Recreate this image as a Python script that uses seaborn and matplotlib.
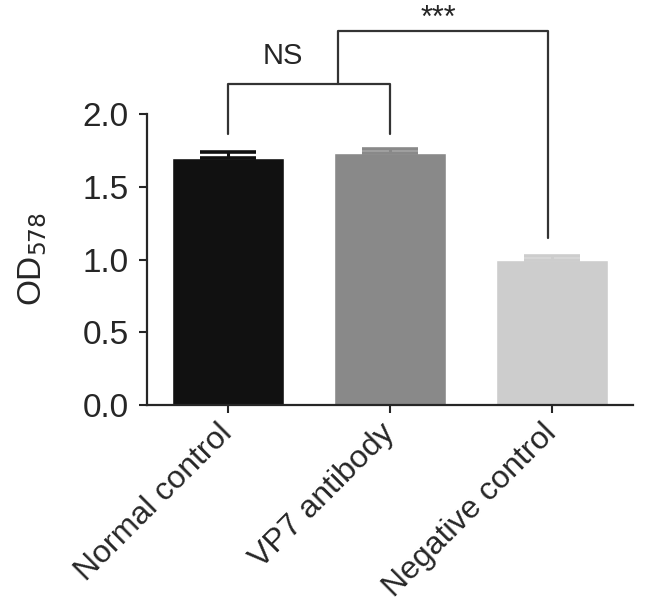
import numpy as np
import pandas as pd
import matplotlib
matplotlib.use("Agg")
import matplotlib.pyplot as plt
import seaborn as sns

# data
groups = ["Normal control", "VP7 antibody", "Negative control"]
od_mean = [1.70, 1.73, 1.00]
od_err = [0.04, 0.03, 0.025]
bar_colors = ["#111111", "#898989", "#cdcdcd"]

sns.set_style("ticks")
plt.rcParams["font.family"] = ["Liberation Sans", "DejaVu Sans"]

df = pd.DataFrame({"group": groups, "od": od_mean})

fig = plt.figure(figsize=(6.46, 6.10), dpi=100)
ax = fig.add_axes([0.2276, 0.336, 0.7524, 0.477])

sns.barplot(data=df, x="group", y="od", hue="group", palette=bar_colors,
            legend=False, width=0.69, saturation=1, ax=ax)

# upper error bars only, same colour as the bar
for i, (m, e, c) in enumerate(zip(od_mean, od_err, bar_colors)):
    ax.errorbar(i, m, yerr=[[0], [e]], fmt="none", ecolor=c,
                elinewidth=2.2, capsize=20, capthick=2.6, zorder=3)

ax.set_ylim(0, 2.0)
ax.set_xlim(-0.5, 2.5)
ax.set_yticks([0.0, 0.5, 1.0, 1.5, 2.0])
ax.set_yticklabels(["0.0", "0.5", "1.0", "1.5", "2.0"])
ax.set_xlabel("")
ax.set_ylabel("OD$_{578}$", fontsize=24, labelpad=24)
ax.set_xticks(range(len(groups)))
ax.set_xticklabels(groups, rotation=45, ha="right", va="center",
                   rotation_mode="anchor", fontsize=23)
ax.tick_params(axis="y", labelsize=24, width=1.5, length=6, pad=7)
ax.tick_params(axis="x", width=1.5, length=6, pad=11)
sns.despine(ax=ax)
for s in ["left", "bottom"]:
    ax.spines[s].set_linewidth(1.6)

# significance brackets
lc = "#333333"
lw = 1.6
ax.plot([0, 0, 1, 1], [1.86, 2.21, 2.21, 1.86], color=lc, lw=lw,
        clip_on=False)
ax.plot([0.68, 0.68, 1.975, 1.975], [2.21, 2.57, 2.57, 1.15], color=lc,
        lw=lw, clip_on=False)
ax.text(0.34, 2.40, "NS", ha="center", va="center", fontsize=21)
ax.text(1.30, 2.60, "***", ha="center", va="baseline", fontsize=22)

fig.savefig("out.png", dpi=100)
